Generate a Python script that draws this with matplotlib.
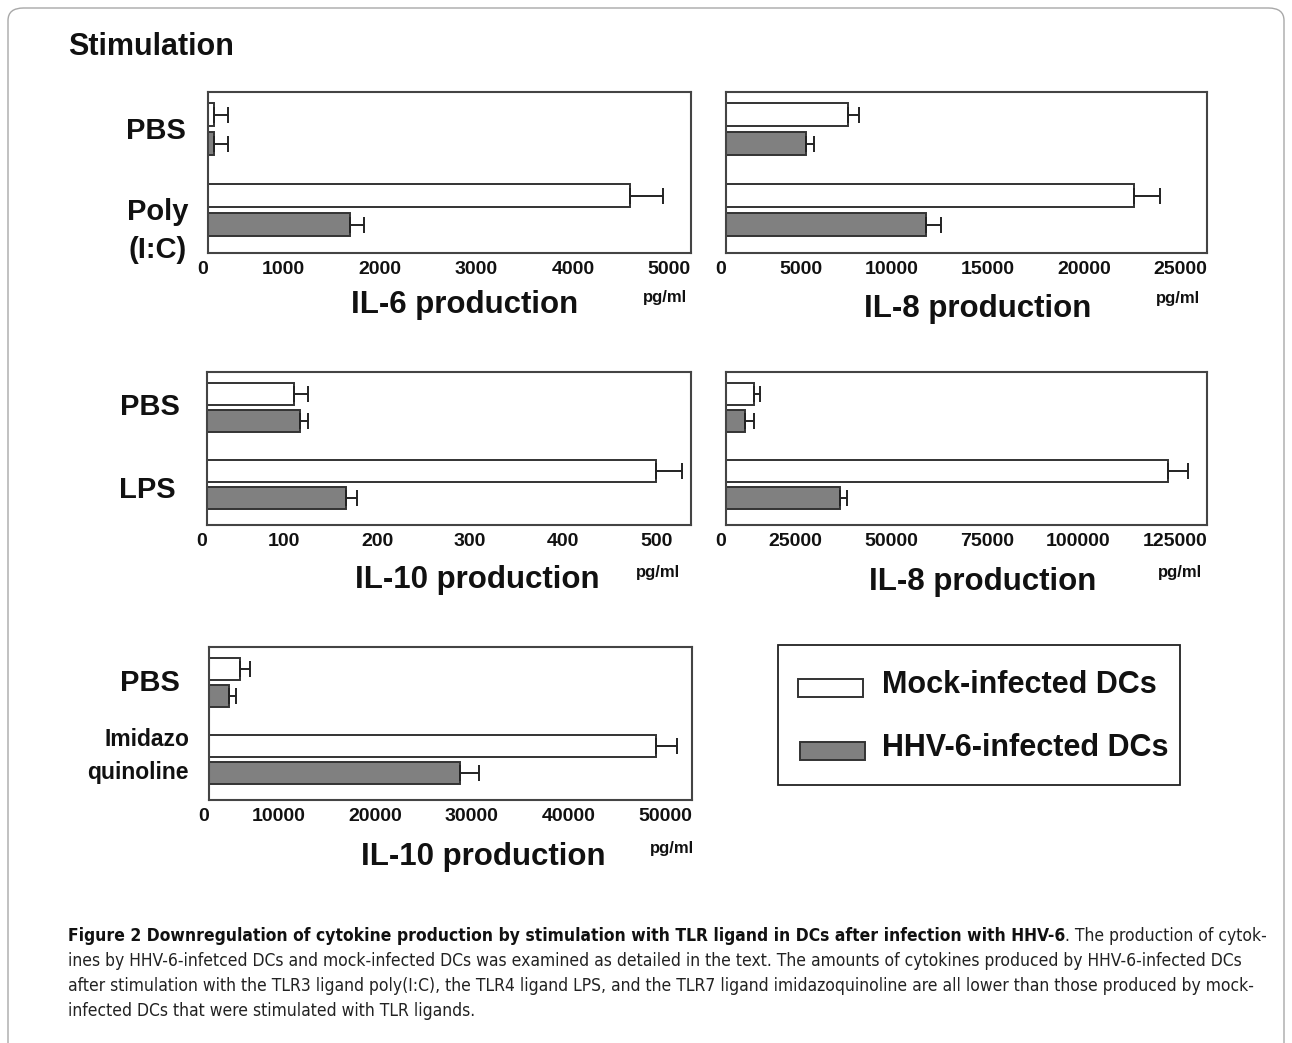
"""
Cytokine production bars (mock vs HHV-6 infected DCs)
"""
import numpy as np
from matplotlib import pyplot as plt
from matplotlib.patches import Rectangle, FancyBboxPatch

W, H = 1292, 1043

seriesNames = ['Mock-infected DCs', 'HHV-6-infected DCs']

# panel 1: IL-6, PBS / Poly(I:C)
il6Mock = [62, 4365]
il6MockErr = [145, 350]
il6Hhv = [62, 1465]
il6HhvErr = [145, 145]
il6Ticks = [0, 1000, 2000, 3000, 4000, 5000]

# panel 2: IL-8, PBS / Poly(I:C)
il8aMock = [6340, 21200]
il8aMockErr = [570, 1350]
il8aHhv = [4160, 10400]
il8aHhvErr = [420, 780]
il8aTicks = [0, 5000, 10000, 15000, 20000, 25000]

# panel 3: IL-10, PBS / LPS
il10aMock = [93, 482]
il10aMockErr = [15, 28]
il10aHhv = [100, 149]
il10aHhvErr = [8, 12]
il10aTicks = [0, 100, 200, 300, 400, 500]

# panel 4: IL-8, PBS / LPS
il8bMock = [7200, 114800]
il8bMockErr = [1700, 5300]
il8bHhv = [5050, 29700]
il8bHhvErr = [2150, 1800]
il8bTicks = [0, 25000, 50000, 75000, 100000, 125000]

# panel 5: IL-10, PBS / imidazoquinoline
il10bMock = [3240, 46300]
il10bMockErr = [1040, 2150]
il10bHhv = [2120, 26000]
il10bHhvErr = [670, 2000]
il10bTicks = [0, 10000, 20000, 30000, 40000, 50000]

FONT = ['Liberation Sans', 'DejaVu Sans']
CAPFONT = ['Liberation Sans Narrow', 'DejaVu Sans']
GRAY = '#808080'
EDGE = '#333333'

plt.rcParams['font.family'] = FONT


def px(x, y):
    return (x / W, 1 - y / H)


def drawPanel(fig, box, mock, mockErr, hhv, hhvErr, xmax, ticks):
    left, top, right, bottom = box
    ax = fig.add_axes([left / W, 1 - bottom / H, (right - left) / W, (bottom - top) / H])
    y = np.arange(len(mock))
    off = 0.178
    bh = 0.285
    ekw = dict(ecolor='#222222', elinewidth=1.4, capsize=6, capthick=1.4)
    ax.barh(y - off, mock, height=bh, color='white', edgecolor=EDGE, linewidth=1.4,
            xerr=[np.zeros(len(mock)), mockErr], error_kw=ekw)
    ax.barh(y + off, hhv, height=bh, color=GRAY, edgecolor=EDGE, linewidth=1.4,
            xerr=[np.zeros(len(hhv)), hhvErr], error_kw=ekw)
    ax.set_xlim(0, xmax)
    ax.set_ylim(1.53, -0.46)
    ax.set_yticks([])
    ax.set_xticks(ticks)
    ax.set_xticklabels([str(t) for t in ticks], fontsize=14, fontweight='bold', ha='right')
    ax.tick_params(axis='x', length=0, pad=6, colors='#111111')
    for s in ax.spines.values():
        s.set_linewidth(1.5)
        s.set_color('#444444')
    return ax


def label(fig, x, y, s, size, ha='center', weight='bold', family=FONT):
    fig.text(*px(x, y), s, fontsize=size, fontweight=weight, ha=ha, va='center',
             color='#111111', family=family)


fig = plt.figure(figsize=(W / 100, H / 100), dpi=100)
fig.patch.set_facecolor('white')

# rounded page border
border = FancyBboxPatch((8 / W, -0.05), (W - 16) / W, 1 - 8 / H + 0.05,
                        boxstyle='round,pad=0,rounding_size=0.012', transform=fig.transFigure,
                        facecolor='none', edgecolor='#a8a8a8', linewidth=1.0)
fig.patches.append(border)

drawPanel(fig, (208, 92, 691, 253), il6Mock, il6MockErr, il6Hhv, il6HhvErr, 5000, il6Ticks)
drawPanel(fig, (726, 92, 1207, 253), il8aMock, il8aMockErr, il8aHhv, il8aHhvErr, 25000, il8aTicks)
drawPanel(fig, (207, 372, 691, 525), il10aMock, il10aMockErr, il10aHhv, il10aHhvErr, 520, il10aTicks)
drawPanel(fig, (726, 372, 1207, 525), il8bMock, il8bMockErr, il8bHhv, il8bHhvErr, 125000, il8bTicks)
drawPanel(fig, (209, 647, 692, 800), il10bMock, il10bMockErr, il10bHhv, il10bHhvErr, 50000, il10bTicks)

label(fig, 68, 47, 'Stimulation', 22, ha='left')

# row labels
label(fig, 186, 131, 'PBS', 21, ha='right')
label(fig, 158, 212, 'Poly', 21)
label(fig, 158, 250, '(I:C)', 21)
label(fig, 180, 407, 'PBS', 21, ha='right')
label(fig, 176, 490, 'LPS', 21, ha='right')
label(fig, 180, 683, 'PBS', 21, ha='right')
label(fig, 189, 740, 'Imidazo', 16.5, ha='right')
label(fig, 189, 772, 'quinoline', 16.5, ha='right')

# axis titles
label(fig, 465, 305, 'IL-6 production', 22.5)
label(fig, 665, 297, 'pg/ml', 12)
label(fig, 978, 309, 'IL-8 production', 22.5)
label(fig, 1178, 298, 'pg/ml', 12)
label(fig, 477, 580, 'IL-10 production', 22.5)
label(fig, 658, 572, 'pg/ml', 12)
label(fig, 983, 582, 'IL-8 production', 22.5)
label(fig, 1180, 573, 'pg/ml', 12)
label(fig, 483, 857, 'IL-10 production', 22.5)
label(fig, 672, 849, 'pg/ml', 12)

# legend box
lx, ly = px(778, 785)
fig.patches.append(Rectangle((lx, ly), 402 / W, 140 / H, transform=fig.transFigure,
                             facecolor='white', edgecolor='#222222', linewidth=1.3))
for i, (name, col) in enumerate(zip(seriesNames, ['white', GRAY])):
    yc = 688 + i * 63
    x0, y0 = px(798 + i * 2, yc + 9)
    fig.patches.append(Rectangle((x0, y0), 65 / W, 18 / H, transform=fig.transFigure,
                                 facecolor=col, edgecolor=EDGE, linewidth=1.4))
    label(fig, 882, yc - 3, name, 22, ha='left')

# caption
capLines = [
    ('Figure 2 Downregulation of cytokine production by stimulation with TLR ligand in DCs after infection with HHV-6',
     '. The production of cytok-'),
    ('', 'ines by HHV-6-infetced DCs and mock-infected DCs was examined as detailed in the text. '
         'The amounts of cytokines produced by HHV-6-infected DCs'),
    ('', 'after stimulation with the TLR3 ligand poly(I:C), the TLR4 ligand LPS, and the TLR7 ligand '
         'imidazoquinoline are all lower than those produced by mock-'),
    ('', 'infected DCs that were stimulated with TLR ligands.'),
]
capKw = dict(family=CAPFONT, fontstretch='condensed', va='center')
renderer = fig.canvas.get_renderer()


def lineWidth(boldPart, rest, size):
    w = 0
    for part, wt in ((boldPart, 'bold'), (rest, 'normal')):
        if part:
            t = fig.text(0, 0, part, fontsize=size, fontweight=wt, **capKw)
            w += t.get_window_extent(renderer).width
            t.remove()
    return w


capSize = 12.5
for k in range(3):
    capSize = min(capSize * 1198 / lineWidth(b, r, capSize) for b, r in capLines[:3])

for i, (boldPart, rest) in enumerate(capLines):
    x, y = px(68, 936 + i * 25)
    if boldPart:
        t = fig.text(x, y, boldPart, fontsize=capSize, fontweight='bold', color='#111111', **capKw)
        x += t.get_window_extent(renderer).width / W
    fig.text(x, y, rest, fontsize=capSize, color='#222222', **capKw)

fig.savefig('out.png', dpi=100, facecolor='white')
